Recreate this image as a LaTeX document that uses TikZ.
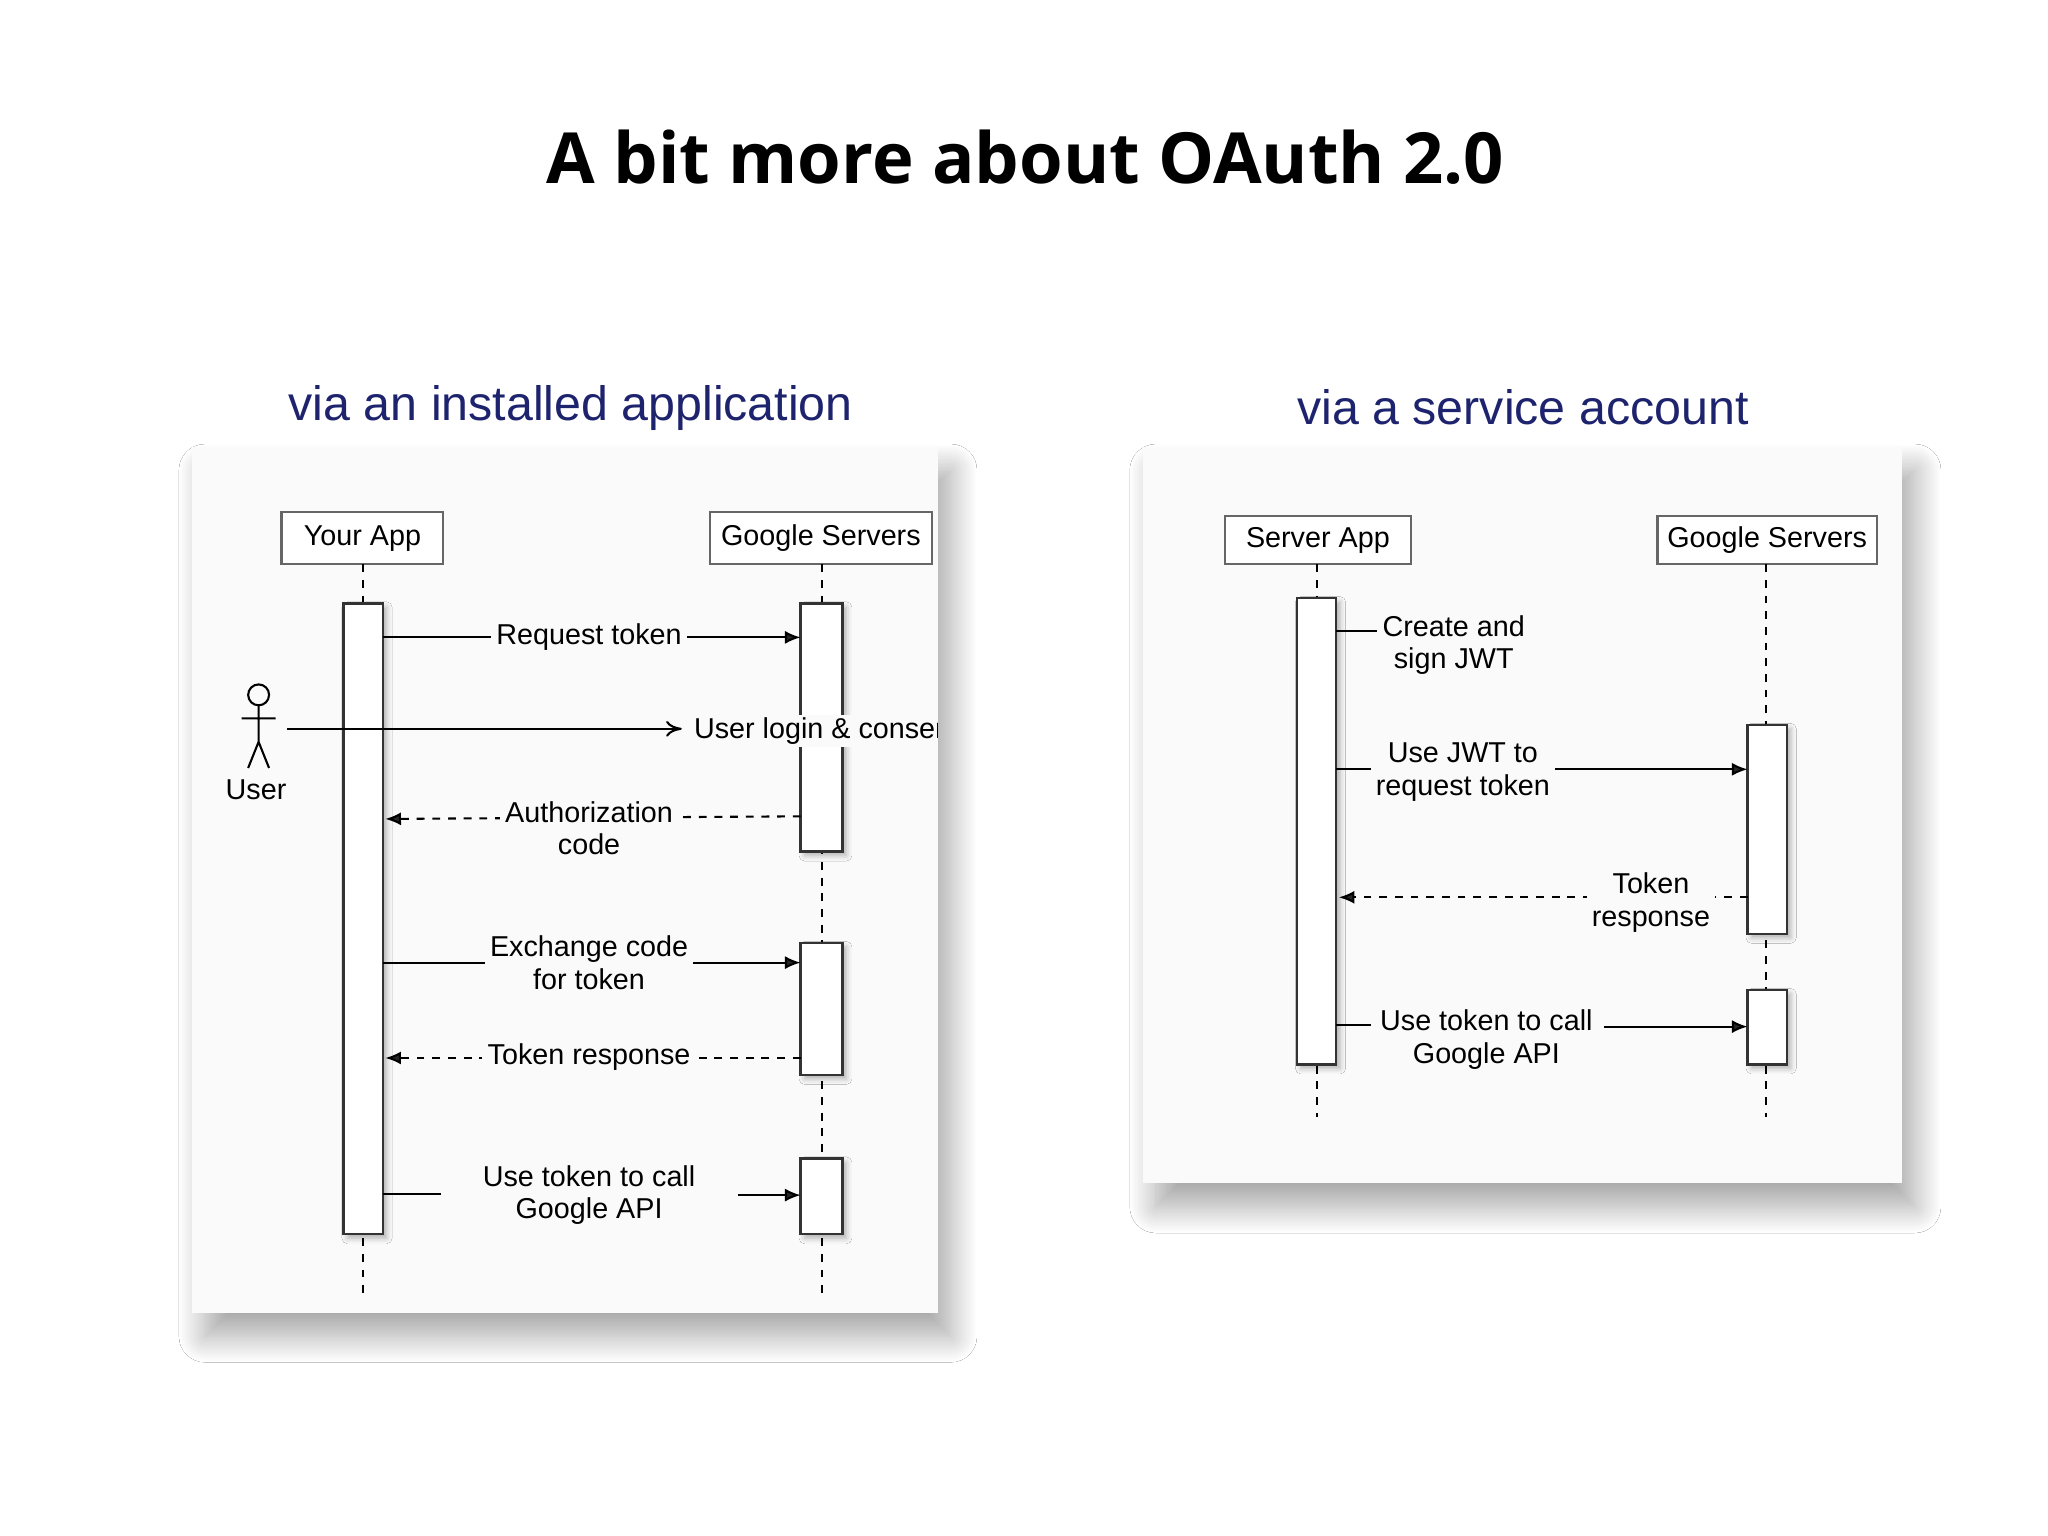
\documentclass[tikz,border=0pt]{standalone}
\usepackage{fontspec}
\setmainfont{Liberation Sans}
\newfontfamily\titlefont{Open Sans}
\usetikzlibrary{shadows.blur,arrows.meta}
\begin{document}
\begin{tikzpicture}[x=0.5pt,y=-0.5pt,
  panel/.style={fill=white!98!black,draw=none,blur shadow={shadow xshift=5pt,shadow yshift=-9pt,shadow blur radius=10pt,shadow blur steps=20,shadow opacity=35}},
  head/.style={draw=black!60,fill=white,line width=0.8pt,inner sep=0pt,font=\fontsize{11}{12}\selectfont},
  bar/.style={draw=black!80,fill=white,line width=0.9pt,blur shadow={shadow xshift=1.5pt,shadow yshift=-1.5pt,shadow blur steps=4,shadow opacity=30}},
  life/.style={dashed,line width=0.8pt,dash pattern=on 3pt off 3pt},
  msg/.style={line width=0.8pt,-{Latex[length=6pt,width=5pt]}},
  ret/.style={msg,dash pattern=on 3pt off 3pt},
  lbl/.style={fill=white!98!black,inner sep=2pt,align=center,font=\fontsize{11}{12.5}\selectfont}]
\useasboundingbox (0,0) rectangle (1568,1176);
\fill[white] (0,0) rectangle (1568,1176);
\node (title) at (785,120) {\titlefont\bfseries\fontsize{27}{30}\selectfont A bit more about OAuth 2.0};
\node[text={rgb,255:red,30;green,35;blue,110}] (s1) at (437,312) {\fontsize{18.5}{20}\selectfont via an installed application};
\node[text={rgb,255:red,30;green,35;blue,110}] (s2) at (1166,312) {\fontsize{18.5}{20}\selectfont via a service account};
% panels
\fill[panel] (147,342) rectangle (718,1005);
\fill[panel] (875,342) rectangle (1456,906);

% ---------- left
\begin{scope}
\clip (147,342) rectangle (718,1005);
\node[head,minimum width=62pt,minimum height=20pt] (ya) at (277.5,412) {Your App};
\node[head,minimum width=85pt,minimum height=20pt] (gs) at (628.5,412) {Google Servers};
\draw[life] (278,432) -- (278,990);
\draw[life] (629,432) -- (629,990);
\draw[bar] (263,462) rectangle (293,945);
\draw[bar] (613,462) rectangle (645,652);
\draw[bar] (613,722) rectangle (645,823);
\draw[bar] (613,887) rectangle (645,945);
\draw[msg] (293,488) -- (613,488);
\node[lbl] (l1) at (451,488) {Request token};
% user
\draw[line width=0.8pt] (198,532) circle (8);
\draw[line width=0.8pt] (198,540) -- (198,568) (185,550) -- (211,550) (190,588) -- (198,568) -- (206,588);
\node[font=\fontsize{11}{12}\selectfont] (user) at (196,605) {User};
\draw[line width=0.8pt,-{To[length=6pt,width=6pt]}] (220,558) -- (522,558);
\node[anchor=west,inner sep=1pt,fill=white!98!black,font=\fontsize{11}{12}\selectfont] (l2) at (529,560) {User login \& consent};
\draw[ret] (613,625) -- (295,627);
\node[lbl] (l3) at (451,634) {Authorization\\code};
\draw[msg] (293,737) -- (613,737);
\node[lbl] (l4) at (451,737) {Exchange code\\for token};
\draw[ret] (613,810) -- (295,810);
\node[lbl] (l5) at (451,809) {Token response};
\draw[line width=0.8pt] (293,914) -- (338,914);
\draw[msg] (565,915) -- (613,915);
\node[lbl] (l6) at (451,915) {Use token to call\\Google API};
\end{scope}

% ---------- right
\node[head,minimum width=71pt,minimum height=18.5pt] (sa) at (1009,413.5) {Server App};
\node[head,minimum width=84pt,minimum height=18.5pt] (gs2) at (1353,413.5) {Google Servers};
\draw[life] (1008,432) -- (1008,855);
\draw[life] (1352,432) -- (1352,855);
\draw[bar] (993,458) rectangle (1023,815);
\draw[bar] (1338,555) rectangle (1368,715);
\draw[bar] (1338,758) rectangle (1368,815);
\draw[line width=0.8pt] (1023,483) -- (1058,483);
\node[lbl] (r1) at (1113,494) {Create and\\sign JWT};
\draw[msg] (1023,589) -- (1338,589);
\node[lbl] (r2) at (1120,591) {Use JWT to\\request token};
\draw[ret] (1338,687) -- (1025,687);
\node[lbl] (r3) at (1264,691) {Token\\response};
\draw[line width=0.8pt] (1023,785) -- (1050,785);
\draw[msg] (1228,786) -- (1338,786);
\node[lbl] (r4) at (1138,796) {Use token to call\\Google API};
\end{tikzpicture}
\end{document}
